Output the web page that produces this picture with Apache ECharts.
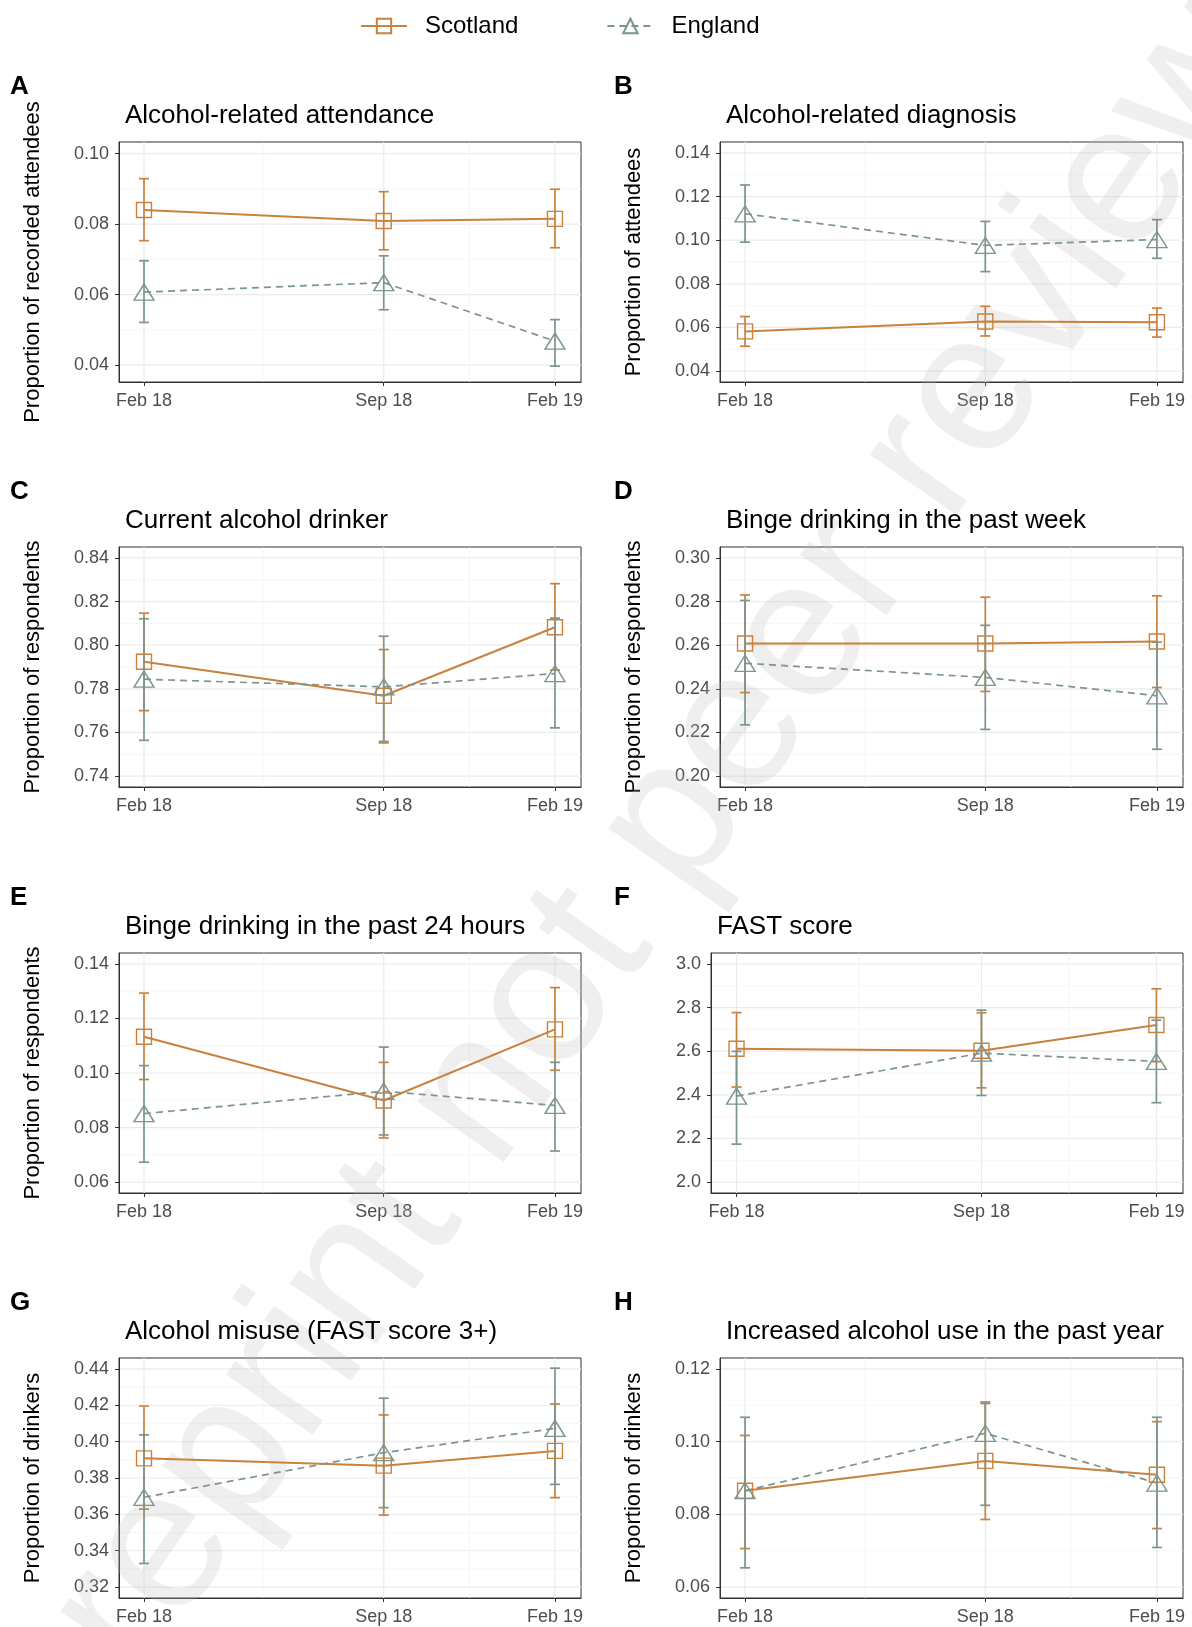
<!DOCTYPE html>
<html>
<head>
<meta charset="utf-8">
<script src="https://cdn.jsdelivr.net/npm/echarts@6/dist/echarts.min.js"></script>
<style>
html, body { margin: 0; padding: 0; background: #fff; }
#chart { width: 1192px; height: 1627px; }
</style>
</head>
<body>
<div id="chart"></div>
<script>
// survey waves (x axis), months after Feb 2018
const periods = ['Feb 18', 'Sep 18', 'Feb 19'];
const monthOffsets = [0, 7, 12];

const panelLetters = ['A', 'B', 'C', 'D', 'E', 'F', 'G', 'H'];
const panelTitles = [
    'Alcohol-related attendance',
    'Alcohol-related diagnosis',
    'Current alcohol drinker',
    'Binge drinking in the past week',
    'Binge drinking in the past 24 hours',
    'FAST score',
    'Alcohol misuse (FAST score 3+)',
    'Increased alcohol use in the past year'
];
const yAxisNames = [
    'Proportion of recorded attendees',
    'Proportion of attendees',
    'Proportion of respondents',
    'Proportion of respondents',
    'Proportion of respondents',
    '',
    'Proportion of drinkers',
    'Proportion of drinkers'
];
const yTicks = [
    [0.04, 0.06, 0.08, 0.10],
    [0.04, 0.06, 0.08, 0.10, 0.12, 0.14],
    [0.74, 0.76, 0.78, 0.80, 0.82, 0.84],
    [0.20, 0.22, 0.24, 0.26, 0.28, 0.30],
    [0.06, 0.08, 0.10, 0.12, 0.14],
    [2.0, 2.2, 2.4, 2.6, 2.8, 3.0],
    [0.32, 0.34, 0.36, 0.38, 0.40, 0.42, 0.44],
    [0.06, 0.08, 0.10, 0.12]
];
const yRanges = [
    [0.0352, 0.1033], [0.035, 0.145], [0.735, 0.845], [0.195, 0.305],
    [0.056, 0.144], [1.95, 3.05], [0.314, 0.446], [0.057, 0.123]
];
const yDecimals = [2, 2, 2, 2, 2, 1, 2, 2];

// Scotland: estimate and 95% CI per panel, per wave
const scotMean = [
    [0.0840, 0.0809, 0.0815], [0.0582, 0.0627, 0.0624], [0.7924, 0.7768, 0.8082], [0.2608, 0.2608, 0.2617],
    [0.1133, 0.0899, 0.1160], [2.611, 2.602, 2.720], [0.3908, 0.3868, 0.3949], [0.0865, 0.0947, 0.0909]
];
const scotLow = [
    [0.0753, 0.0727, 0.0733], [0.0514, 0.0561, 0.0556], [0.7700, 0.7552, 0.7886], [0.2383, 0.2388, 0.2406],
    [0.0976, 0.0762, 0.1010], [2.436, 2.432, 2.552], [0.3629, 0.3596, 0.3692], [0.0706, 0.0786, 0.0761]
];
const scotHigh = [
    [0.0929, 0.0892, 0.0899], [0.0650, 0.0697, 0.0689], [0.8147, 0.7980, 0.8282], [0.2830, 0.2820, 0.2826],
    [0.1293, 0.1039, 0.1313], [2.777, 2.776, 2.886], [0.4196, 0.4147, 0.4207], [0.1017, 0.1109, 0.1055]
];
// England
const engMean = [
    [0.0607, 0.0634, 0.0468], [0.1121, 0.0976, 0.1003], [0.7844, 0.7809, 0.7870], [0.2517, 0.2452, 0.2368],
    [0.0851, 0.0933, 0.0881], [2.394, 2.591, 2.553], [0.3694, 0.3939, 0.4073], [0.0865, 0.1023, 0.0886]
];
const engLow = [
    [0.0521, 0.0557, 0.0397], [0.0991, 0.0856, 0.0917], [0.7564, 0.7559, 0.7621], [0.2235, 0.2214, 0.2123],
    [0.0673, 0.0773, 0.0714], [2.174, 2.397, 2.364], [0.3330, 0.3637, 0.3765], [0.0653, 0.0825, 0.0709]
];
const engHigh = [
    [0.0696, 0.0710, 0.0529], [0.1253, 0.1086, 0.1094], [0.8121, 0.8041, 0.8124], [0.2805, 0.2691, 0.2614],
    [0.1027, 0.1095, 0.1039], [2.599, 2.788, 2.742], [0.4037, 0.4239, 0.4404], [0.1067, 0.1105, 0.1067]
];

const SCOT = '#c8823e';
const ENG = '#7b958f';
const FONT = "'Liberation Sans', Arial, sans-serif";
const frameTops = [142, 547, 953, 1358];
const frameHeight = 240;

function frameLeft(i) {
    if (i % 2 === 0) return 119;
    return i === 5 ? 711 : 720;
}
function frameRight(i) {
    return i % 2 === 0 ? 581 : 1183;
}

// midpoints between major breaks (ggplot minor grid)
function minorBreaks(ticks, lo, hi) {
    const step = ticks[1] - ticks[0];
    const out = [];
    for (let k = -1; k < ticks.length; k++) {
        const v = ticks[0] + step * (k + 0.5);
        if (v > lo && v < hi) out.push(v);
    }
    return out;
}

function gridRenderer(params, api) {
    const kind = api.value(0);
    const v = api.value(1);
    const cs = params.coordSys;
    let shape;
    if (kind < 2) {
        const y = api.coord([0, v])[1];
        shape = { x1: cs.x, y1: y, x2: cs.x + cs.width, y2: y };
    } else {
        const x = api.coord([v, 0])[0];
        shape = { x1: x, y1: cs.y, x2: x, y2: cs.y + cs.height };
    }
    const major = kind === 0 || kind === 2;
    return {
        type: 'line',
        shape: shape,
        style: { stroke: major ? '#ebebeb' : '#f2f2f2', lineWidth: major ? 1.2 : 0.7 }
    };
}

function errorBarRenderer(color) {
    return function (params, api) {
        const x = api.value(0);
        const a = api.coord([x, api.value(1)]);
        const b = api.coord([x, api.value(2)]);
        const w = 5;
        const st = { stroke: color, lineWidth: 1.7 };
        return {
            type: 'group',
            children: [
                { type: 'line', shape: { x1: a[0], y1: a[1], x2: b[0], y2: b[1] }, style: st },
                { type: 'line', shape: { x1: a[0] - w, y1: a[1], x2: a[0] + w, y2: a[1] }, style: st },
                { type: 'line', shape: { x1: b[0] - w, y1: b[1], x2: b[0] + w, y2: b[1] }, style: st }
            ]
        };
    };
}

const grids = [], xAxes = [], yAxes = [], titles = [], series = [];

for (let i = 0; i < 8; i++) {
    const row = Math.floor(i / 2);
    const col = i % 2;
    const left = frameLeft(i);
    const top = frameTops[row];

    grids.push({
        left: left, top: top, width: frameRight(i) - left, height: frameHeight,
        show: true, borderColor: '#333', borderWidth: 1, backgroundColor: 'transparent',
        outerBoundsMode: 'none', containLabel: false
    });

    xAxes.push({
        gridIndex: i, type: 'value', min: -0.73, max: 12.76,
        axisLine: { show: true, onZero: false, lineStyle: { color: '#333', width: 1 } },
        axisTick: { show: true, length: 4, customValues: monthOffsets, lineStyle: { color: '#333' } },
        axisLabel: {
            customValues: monthOffsets,
            formatter: v => periods[monthOffsets.indexOf(v)] || '',
            fontSize: 18, color: '#4d4d4d', fontFamily: FONT, margin: 10
        },
        splitLine: { show: false }
    });

    yAxes.push({
        gridIndex: i, type: 'value', min: yRanges[i][0], max: yRanges[i][1],
        name: yAxisNames[i], nameLocation: 'middle', nameGap: 75,
        nameTextStyle: { fontSize: 22, color: '#000', fontFamily: FONT },
        axisLine: { show: true, onZero: false, lineStyle: { color: '#333', width: 1 } },
        axisTick: { show: true, length: 4, customValues: yTicks[i], lineStyle: { color: '#333' } },
        axisLabel: {
            customValues: yTicks[i],
            formatter: v => Number(v).toFixed(yDecimals[i]),
            fontSize: 18, color: '#4d4d4d', fontFamily: FONT, margin: 10
        },
        splitLine: { show: false }
    });

    titles.push({
        text: panelLetters[i], left: col === 0 ? 10 : 614, top: top - 68, padding: 0,
        textStyle: { fontSize: 26, fontWeight: 'bold', color: '#000', fontFamily: FONT }
    });
    titles.push({
        text: panelTitles[i], left: left + 6, top: top - 39, padding: 0,
        textStyle: { fontSize: 26, fontWeight: 'normal', color: '#000', fontFamily: FONT }
    });

    // background grid
    const gridData = [];
    yTicks[i].forEach(v => gridData.push([0, v]));
    minorBreaks(yTicks[i], yRanges[i][0], yRanges[i][1]).forEach(v => gridData.push([1, v]));
    monthOffsets.forEach(v => gridData.push([2, v]));
    for (let k = 0; k < monthOffsets.length - 1; k++) {
        gridData.push([3, (monthOffsets[k] + monthOffsets[k + 1]) / 2]);
    }
    series.push({
        type: 'custom', name: 'grid' + i, xAxisIndex: i, yAxisIndex: i, silent: true, z: 0,
        renderItem: gridRenderer, data: gridData
    });

    // error bars
    series.push({
        type: 'custom', name: 'Scotland CI', xAxisIndex: i, yAxisIndex: i, silent: true, z: 3,
        encode: { x: 0, y: [1, 2] },
        renderItem: errorBarRenderer(SCOT),
        data: monthOffsets.map((m, k) => [m, scotLow[i][k], scotHigh[i][k]])
    });
    series.push({
        type: 'custom', name: 'England CI', xAxisIndex: i, yAxisIndex: i, silent: true, z: 3,
        encode: { x: 0, y: [1, 2] },
        renderItem: errorBarRenderer(ENG),
        data: monthOffsets.map((m, k) => [m, engLow[i][k], engHigh[i][k]])
    });

    // point estimates
    series.push({
        type: 'line', name: 'Scotland', xAxisIndex: i, yAxisIndex: i, z: 4,
        data: monthOffsets.map((m, k) => [m, scotMean[i][k]]),
        symbol: 'rect', symbolSize: 15, showSymbol: true,
        itemStyle: { color: 'rgba(0,0,0,0)', borderColor: SCOT, borderWidth: 1.4 },
        lineStyle: { color: SCOT, width: 2, type: 'solid' }
    });
    series.push({
        type: 'line', name: 'England', xAxisIndex: i, yAxisIndex: i, z: 4,
        data: monthOffsets.map((m, k) => [m, engMean[i][k]]),
        symbol: 'triangle', symbolSize: [20, 16], showSymbol: true,
        itemStyle: { color: 'rgba(0,0,0,0)', borderColor: ENG, borderWidth: 1.4 },
        lineStyle: { color: ENG, width: 1.7, type: [7, 5] }
    });
}

const chart = echarts.init(document.getElementById('chart'), null, { renderer: 'canvas' });
chart.setOption({
    animation: false,
    backgroundColor: '#fff',
    textStyle: { fontFamily: FONT },
    title: titles,
    legend: {
        data: ['Scotland', 'England'],
        left: 355, top: 9,
        itemWidth: 46, itemHeight: 18, itemGap: 88,
        textStyle: { fontSize: 24, color: '#000', fontFamily: FONT, padding: [0, 0, 0, 13] }
    },
    graphic: [{
        type: 'text', x: 690, y: 800, rotation: 55 * Math.PI / 180, z: 1, silent: true,
        style: {
            text: 'Preprint not peer reviewed', fontSize: 200, fontFamily: FONT,
            fill: 'rgba(190,190,190,0.24)', align: 'center', verticalAlign: 'middle',
            textAlign: 'center', textVerticalAlign: 'middle'
        }
    }],
    grid: grids,
    xAxis: xAxes,
    yAxis: yAxes,
    series: series
});
</script>
</body>
</html>
